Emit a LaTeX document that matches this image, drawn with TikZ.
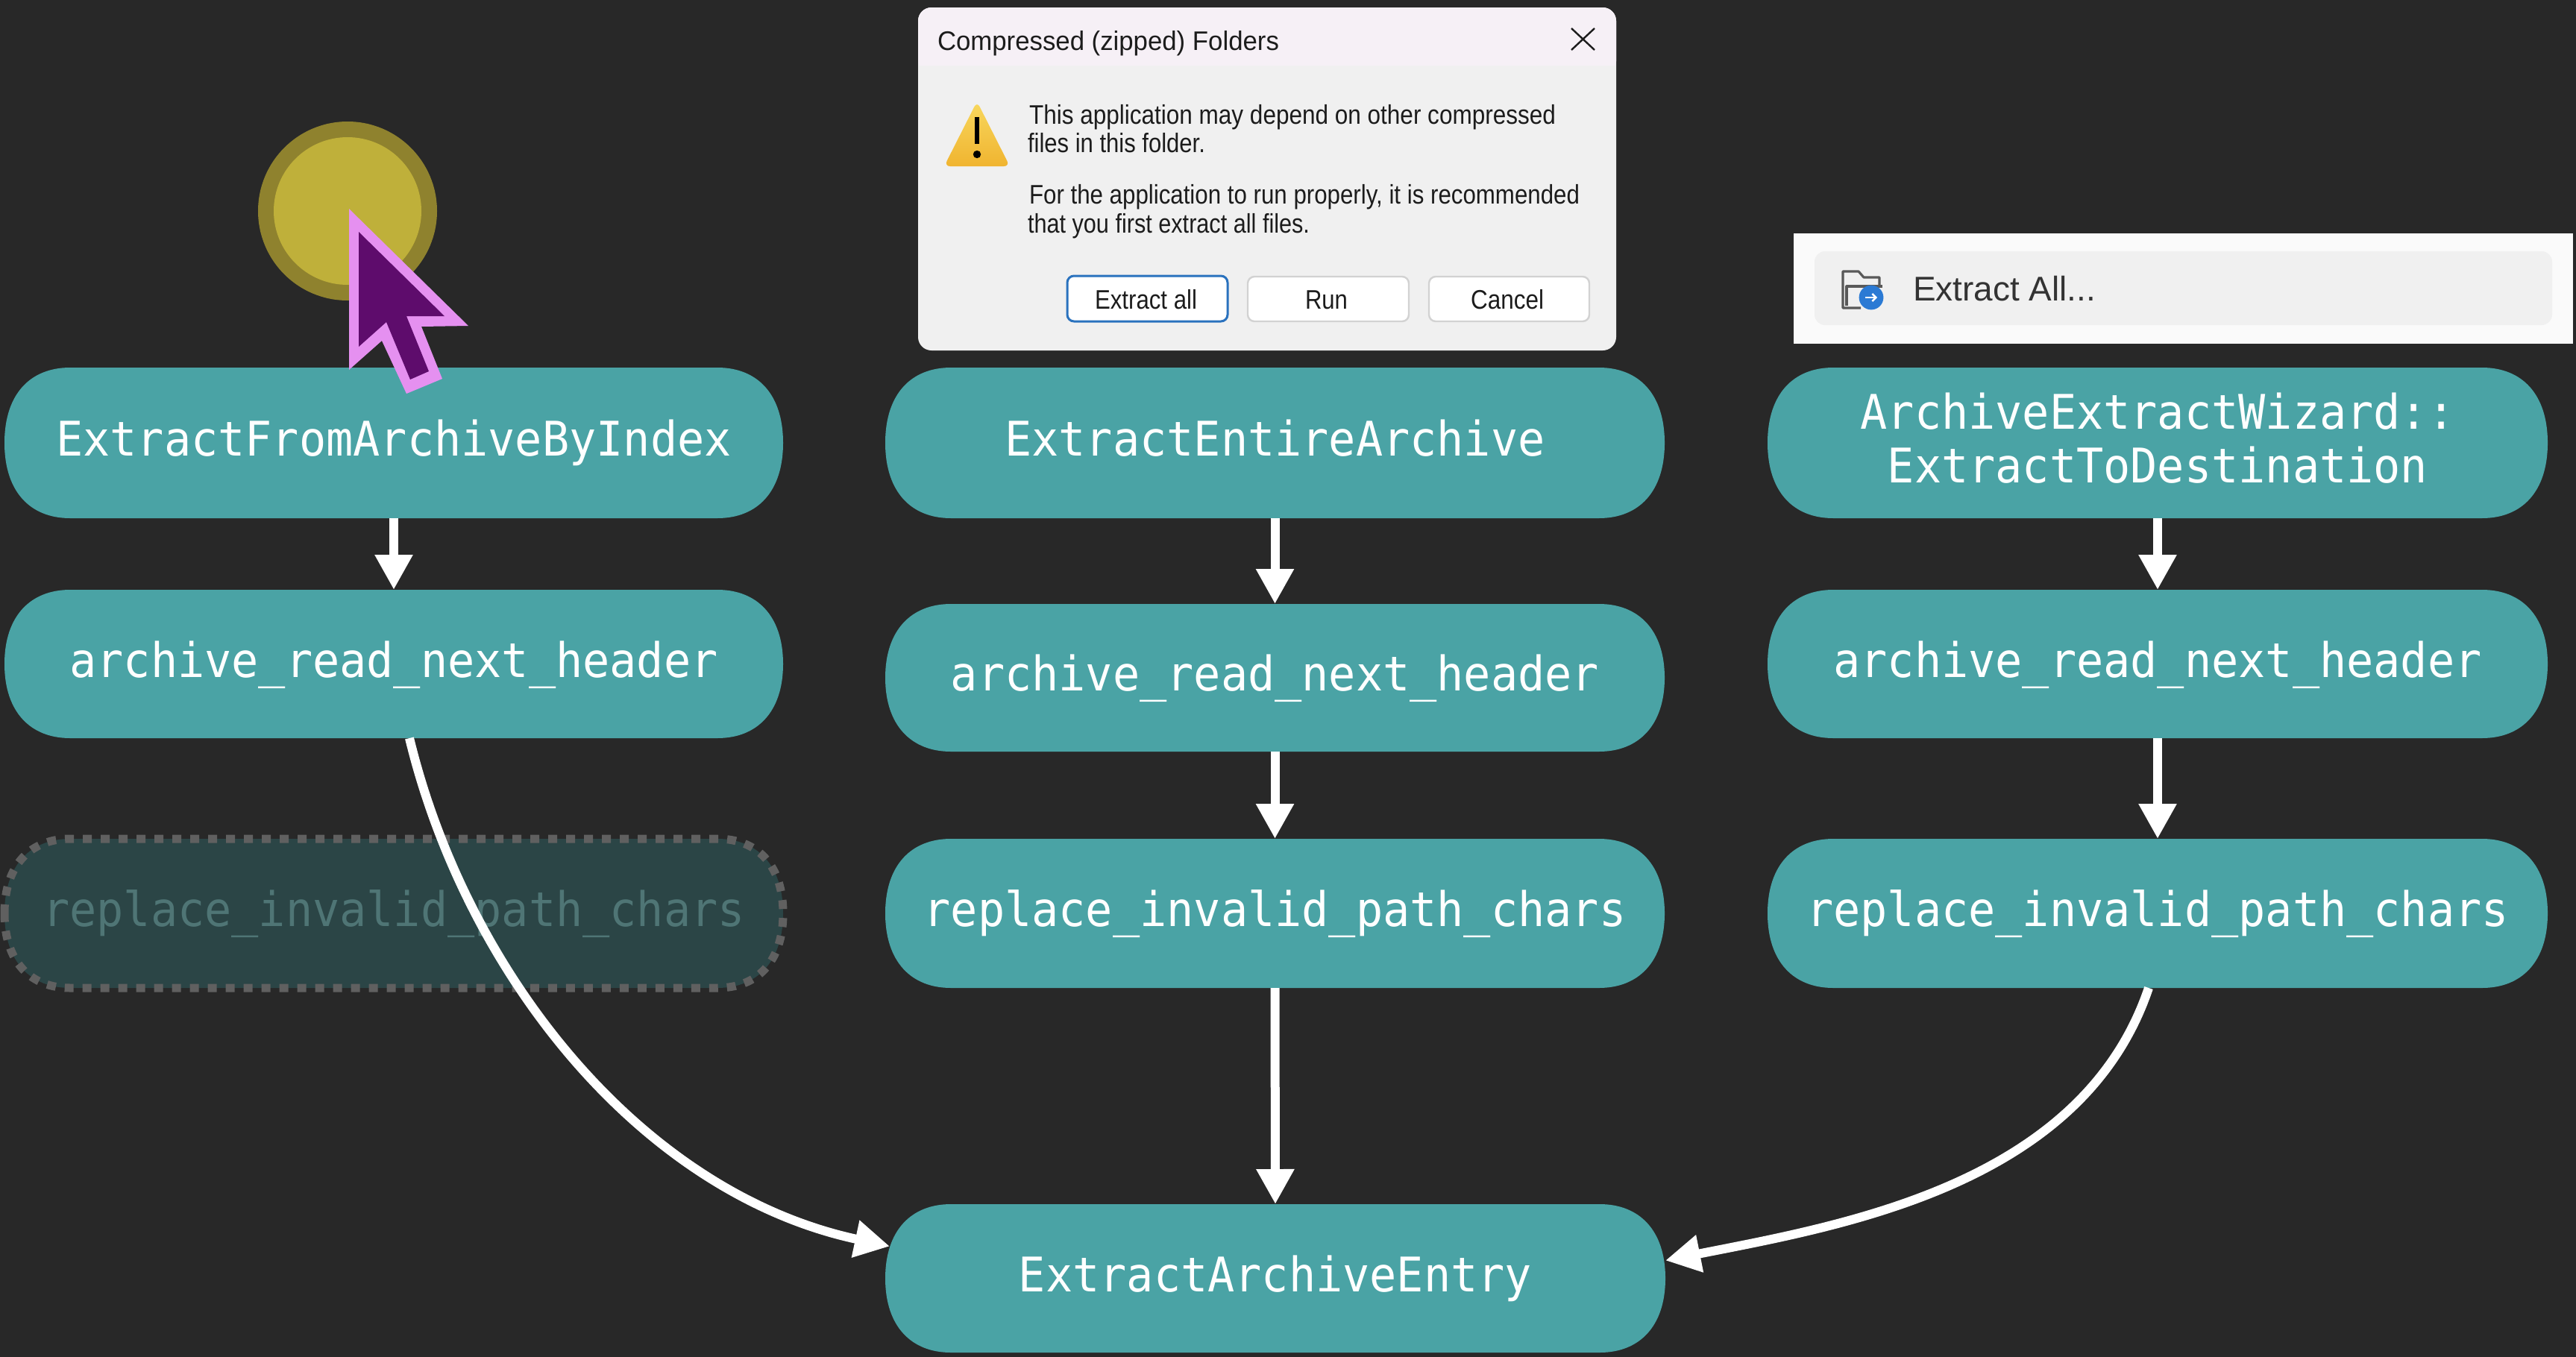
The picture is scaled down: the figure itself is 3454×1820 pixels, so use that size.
\documentclass[tikz,border=0pt]{standalone}
\usepackage{fontspec}
\usepackage{graphicx}
\usetikzlibrary{arrows.meta,calc}
\setmainfont{Liberation Sans}
\newfontfamily\codefont[FakeStretch=0.94]{DejaVu Sans Mono}
\definecolor{bgdark}{HTML}{282828}
\definecolor{teal}{HTML}{4AA3A5}
\definecolor{ghostfill}{HTML}{2B4546}
\definecolor{ghostline}{HTML}{606060}
\definecolor{ghosttext}{HTML}{4F7575}
\definecolor{circouter}{HTML}{8F822E}
\definecolor{circinner}{HTML}{BFB03A}
\definecolor{curouter}{HTML}{E590F0}
\definecolor{curinner}{HTML}{5E0C6C}
\definecolor{dlgbody}{HTML}{F0F0F0}
\definecolor{dlgtitle}{HTML}{F6F0F6}
\definecolor{dlgtext}{HTML}{1C1C1C}
\definecolor{btnline}{HTML}{D2D2D2}
\definecolor{btnblue}{HTML}{2A72BE}
\definecolor{menuoff}{HTML}{FAFAFA}
\definecolor{menuon}{HTML}{F0F0F0}
\definecolor{iconblue}{HTML}{2B7AD4}
\definecolor{warntop}{HTML}{F8D85E}
\definecolor{warnbot}{HTML}{F0B430}
\tikzset{
  x=0.5pt,y=-0.5pt,
  pillfill/.style={fill=teal},
  ghostfillstyle/.style={fill=ghostfill,draw=ghostline,line width=5.5pt,dash pattern=on 6pt off 6pt},
  pilltext/.style={inner sep=0pt,outer sep=0pt,align=center,text=white,
    font=\fontsize{32}{36}\selectfont\codefont,text height=24.5pt,text depth=7pt},
  twolines/.style={text height=,text depth=},
  ghosttextstyle/.style={text=ghosttext},
  flow/.style={draw=white,line width=6pt,-{Triangle[length=23.5pt,width=24pt]}},
  dlgline/.style={inner sep=0pt,outer sep=0pt,anchor=base west,text=dlgtext,font=\fontsize{18}{18}\selectfont},
  btnlabel/.style={inner sep=0pt,outer sep=0pt,anchor=base west,text=dlgtext,font=\fontsize{18}{18}\selectfont},
  btnbox/.style={fill=white,draw=btnline,line width=1.2pt,rounded corners=4.5pt},
  btndefault/.style={fill=white,draw=btnblue,line width=1.5pt,rounded corners=4.5pt},
}
% outline of a box: #1 style, #2..#5 = x1,y1,x2,y2
\newcommand\pilloutline[5]{%
  \path[#1] (#2,{(#3+#5)/2})
    .. controls (#2,{#3+35}) and ({#2+35},#3) .. ({#2+88},#3)
    -- ({#4-88},#3)
    .. controls ({#4-35},#3) and (#4,{#3+35}) .. (#4,{(#3+#5)/2})
    .. controls (#4,{#5-35}) and ({#4-35},#5) .. ({#4-88},#5)
    -- ({#2+88},#5)
    .. controls ({#2+35},#5) and (#2,{#5-35}) .. (#2,{(#3+#5)/2}) -- cycle;}
% #1 extra node style, #2 name, #3..#6 x1,y1,x2,y2, #7 text
\newcommand\pillnode[7][]{%
  \pilloutline{pillfill}{#3}{#4}{#5}{#6}%
  \node[pilltext,minimum width={(#5-#3)*0.5pt},minimum height={(#6-#4)*0.5pt},#1] (#2) at ({(#3+#5)/2},{(#4+#6)/2}) {#7};}
\begin{document}
\begin{tikzpicture}
\useasboundingbox (0,0) rectangle (3454,1820);
\fill[bgdark] (0,0) rectangle (3454,1820);

% highlight circle
\fill[circouter] (466,283) circle[radius=60pt];
\fill[circinner] (466,283) circle[radius=49.5pt];

% dialog
\fill[dlgbody,rounded corners=9pt] (1231,10) rectangle (2167,470);
\fill[dlgtitle,rounded corners=9pt] (1231,10) -- (2167,10) -- (2167,100) -- (1231,100) -- cycle;
\fill[dlgbody] (1231,88) rectangle (2167,100);
\node[dlgline] (dlgt) at (1257,67) {\resizebox{229pt}{\height}{Compressed (zipped) Folders}};
\draw[dlgtext,line width=1.2pt] (2107,38) -- (2138,67) (2138,38) -- (2107,67);
\shade[top color=warntop,bottom color=warnbot,rounded corners=4pt]
  (1310,136) -- (1354,223) -- (1266,223) -- cycle;
\fill[black] (1307,157) rectangle (1313,193);
\fill[black] (1310,207) circle[radius=2.6pt];
\node[dlgline] (d1) at (1380,166) {\resizebox{353pt}{\height}{This application may depend on other compressed}};
\node[dlgline] (d2) at (1378,204) {\resizebox{119pt}{\height}{files in this folder.}};
\node[dlgline] (d3) at (1380,273) {\resizebox{369pt}{\height}{For the application to run properly, it is recommended}};
\node[dlgline] (d4) at (1378,312) {\resizebox{189pt}{\height}{that you first extract all files.}};
\path[btndefault] (1431,370) rectangle (1646,431);
\path[btnbox] (1673,371) rectangle (1889,431);
\path[btnbox] (1916,371) rectangle (2131,431);
\node[btnlabel] (b1) at (1468,414) {\resizebox{68.5pt}{\height}{Extract all}};
\node[btnlabel] (b2) at (1750,414) {\resizebox{28.5pt}{\height}{Run}};
\node[btnlabel] (b3) at (1972,414) {\resizebox{49pt}{\height}{Cancel}};

% Extract All menu
\fill[menuoff] (2405,313) rectangle (3450,461);
\fill[menuon,rounded corners=7pt] (2433,337) rectangle (3422,436);
\draw[black!65,line width=1.6pt,line join=round]
  (2495,413) -- (2471,413) -- (2471,364) -- (2492,364) -- (2499,372) -- (2520,372) -- (2520,382);
\draw[black!65,line width=1.6pt,line join=round]
  (2476,410) -- (2476,384) -- (2524,384);
\fill[iconblue] (2509,399) circle[radius=8.2pt];
\draw[white,line width=1.2pt,-{Straight Barb[length=2.5pt,width=5pt]}] (2501,399) -- (2517,399);
\node[inner sep=0pt,outer sep=0pt,anchor=base west,text=black!80,font=\fontsize{23}{23}\selectfont] (menu) at (2565,403)
  {\resizebox{122.5pt}{\height}{Extract All...}};

% boxes
\pillnode{a1}{6}{493}{1050}{695}{ExtractFromArchiveByIndex}
\pillnode{a2}{6}{791}{1050}{990}{archive\_read\_next\_header}
\pilloutline{ghostfillstyle}{6}{1125}{1050}{1325}
\node[pilltext,ghosttextstyle,minimum width=522pt,minimum height=100pt] (a3) at (528,1225) {replace\_invalid\_path\_chars};

\pillnode{b1n}{1187}{493}{2232}{695}{ExtractEntireArchive}
\pillnode{b2n}{1187}{810}{2232}{1008}{archive\_read\_next\_header}
\pillnode{b3n}{1187}{1125}{2232}{1325}{replace\_invalid\_path\_chars}

\pillnode[twolines]{c1}{2370}{493}{3416}{695}{ArchiveExtractWizard::\\ExtractToDestination\rule[-7.3pt]{0pt}{7.3pt}}
\pillnode{c2}{2370}{791}{3416}{990}{archive\_read\_next\_header}
\pillnode{c3}{2370}{1125}{3416}{1325}{replace\_invalid\_path\_chars}

\pillnode{t}{1187}{1615}{2233}{1814}{ExtractArchiveEntry}

% connectors
\draw[flow] (a1.south) -- (a2.north);
\draw[flow] (b1n.south) -- (b2n.north);
\draw[flow] (b2n.south) -- (b3n.north);
\draw[flow] (b3n.south) -- (t.north);
\draw[flow] (c1.south) -- (c2.north);
\draw[flow] (c2.south) -- (c3.north);
\draw[flow] ($(a2.south)+(21,0)$) .. controls (626,1307) and (860,1600) .. ($(t.west)+(6,-43)$);
\draw[flow] ($(c3.south)+(-12,0)$) .. controls (2792,1589) and (2473,1643) .. ($(t.east)+(0,-24)$);

% cursor
\fill[curouter] (468,280) -- (628,437) -- (565,438) -- (593,508) -- (545,528) -- (512,457) -- (468,496) -- cycle;
\fill[curinner] (481,311) -- (596,424) -- (545,424) -- (575,498) -- (550,509) -- (518,432) -- (481,465) -- cycle;
\end{tikzpicture}
\end{document}
